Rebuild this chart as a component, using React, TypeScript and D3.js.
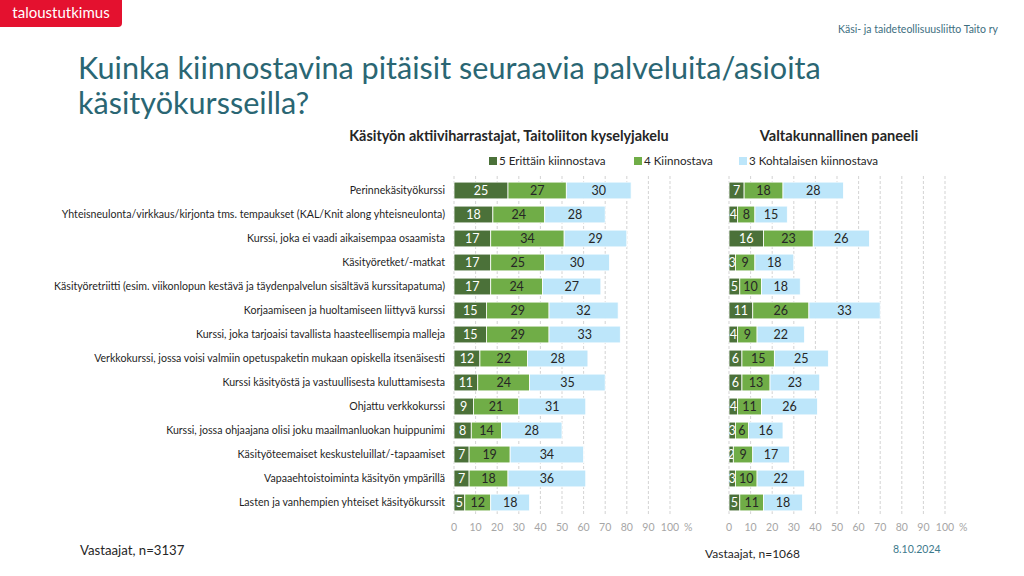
import React from "react";
import * as d3 from "d3";

const categories = [
  "Perinnekäsityökurssi",
  "Yhteisneulonta/virkkaus/kirjonta tms. tempaukset (KAL/Knit along yhteisneulonta)",
  "Kurssi, joka ei vaadi aikaisempaa osaamista",
  "Käsityöretket/-matkat",
  "Käsityöretriitti (esim. viikonlopun kestävä ja täydenpalvelun sisältävä kurssitapatuma)",
  "Korjaamiseen ja huoltamiseen liittyvä kurssi",
  "Kurssi, joka tarjoaisi tavallista haasteellisempia malleja",
  "Verkkokurssi, jossa voisi valmiin opetuspaketin mukaan opiskella itsenäisesti",
  "Kurssi käsityöstä ja vastuullisesta kuluttamisesta",
  "Ohjattu verkkokurssi",
  "Kurssi, jossa ohjaajana olisi joku maailmanluokan huippunimi",
  "Käsityöteemaiset keskusteluillat/-tapaamiset",
  "Vapaaehtoistoiminta käsityön ympärillä",
  "Lasten ja vanhempien yhteiset käsityökurssit",
];

const seriesNames = ["5 Erittäin kiinnostava", "4 Kiinnostava", "3 Kohtalaisen kiinnostava"];

const leftS5 = [25, 18, 17, 17, 17, 15, 15, 12, 11, 9, 8, 7, 7, 5];
const leftS4 = [27, 24, 34, 25, 24, 29, 29, 22, 24, 21, 14, 19, 18, 12];
const leftS3 = [30, 28, 29, 30, 27, 32, 33, 28, 35, 31, 28, 34, 36, 18];

const rightS5 = [7, 4, 16, 3, 5, 11, 4, 6, 6, 4, 3, 2, 3, 5];
const rightS4 = [18, 8, 23, 9, 10, 26, 9, 15, 13, 11, 6, 9, 10, 11];
const rightS3 = [28, 15, 26, 18, 18, 33, 22, 25, 23, 26, 16, 17, 22, 18];

const ticks = [0, 10, 20, 30, 40, 50, 60, 70, 80, 90, 100];

const colors = ["#4B7139", "#70AD47", "#BDE6FA"];
const labelColors = ["#ffffff", "#262626", "#262626"];
const FONT = "Lato, 'Open Sans', sans-serif";

const y = d3.scaleBand<string>().domain(categories).range([178.5, 514.5]).paddingInner(0.3).paddingOuter(0.15);

function Panel({ x0, s5, s4, s3 }: { x0: number; s5: number[]; s4: number[]; s3: number[] }) {
  const x = d3.scaleLinear().domain([0, 100]).range([x0, x0 + 216]);
  const rows = categories.map((c, i) => ({ c, vals: [s5[i], s4[i], s3[i]] }));
  const stackData = categories.map((c, i) => ({ c, a: s5[i], b: s4[i], d: s3[i] }));
  const stack = d3.stack<any>().keys(["a", "b", "d"])(stackData);
  return (
    <g>
      {ticks.map((t) => (
        <line key={t} x1={x(t)} x2={x(t)} y1={176} y2={515} stroke="#C8C8C8" strokeWidth={0.8} strokeDasharray="3,2" />
      ))}
      {stack.map((layer, k) => (
        <g key={k}>
          {layer.map((seg, i) => {
            const yy = y(categories[i])!;
            const w = x(seg[1]) - x(seg[0]);
            return (
              <g key={i}>
                <rect x={x(seg[0])} y={yy} width={w} height={y.bandwidth()} fill={colors[k]} stroke="#ffffff" strokeWidth={0.8} />
                <text
                  x={(x(seg[0]) + x(seg[1])) / 2}
                  y={yy + y.bandwidth() / 2}
                  dy="0.36em"
                  textAnchor="middle"
                  fontSize={12.5}
                  fill={labelColors[k]}
                  fontFamily={FONT}
                >
                  {rows[i].vals[k]}
                </text>
              </g>
            );
          })}
        </g>
      ))}
      {ticks.map((t) => (
        <text key={"l" + t} x={x(t)} y={531} textAnchor="middle" fontSize={10.5} fill="#A6A6A6" fontFamily={FONT}>
          {t}
        </text>
      ))}
      <text x={x(100) + 14} y={531} textAnchor="start" fontSize={10.5} fill="#A6A6A6" fontFamily={FONT}>
        %
      </text>
    </g>
  );
}

export default function App() {
  return (
    <svg width={1024} height={576} style={{ position: "absolute", left: 0, top: 0, background: "#fff" }}>
      <rect x={0} y={0} width={1024} height={576} fill="#ffffff" />
      <rect x={-6} y={-6} width={128} height={33} rx={4} fill="#E4112F" />
      <text x={61} y={18} textAnchor="middle" fontSize={15} fill="#ffffff" fontFamily={FONT}>
        taloustutkimus
      </text>
      <text x={998} y={33} textAnchor="end" fontSize={10.5} fill="#3D6E80" fontFamily={FONT}>
        Käsi- ja taideteollisuusliitto Taito ry
      </text>
      <text x={78} y={79} fontSize={30.6} fill="#2A6673" fontFamily={FONT}>
        Kuinka kiinnostavina pitäisit seuraavia palveluita/asioita
      </text>
      <text x={78} y={114} fontSize={30.6} fill="#2A6673" fontFamily={FONT}>
        käsityökursseilla?
      </text>
      <text x={509} y={141} textAnchor="middle" fontSize={14.4} fontWeight={700} fill="#262626" fontFamily={FONT}>
        Käsityön aktiiviharrastajat, Taitoliiton kyselyjakelu
      </text>
      <text x={839} y={141} textAnchor="middle" fontSize={14.6} fontWeight={700} fill="#262626" fontFamily={FONT}>
        Valtakunnallinen paneeli
      </text>
      {seriesNames.map((s, k) => {
        const lx = [489, 634, 739][k];
        return (
          <g key={s}>
            <rect x={lx} y={157} width={8} height={8} fill={colors[k]} />
            <text x={lx + 10} y={165} fontSize={11.6} fill="#262626" fontFamily={FONT}>
              {s}
            </text>
          </g>
        );
      })}
      {categories.map((c) => (
        <text
          key={c}
          x={445}
          y={y(c)! + y.bandwidth() / 2}
          dy="0.35em"
          textAnchor="end"
          fontSize={10.6}
          fill="#1f1f1f"
          fontFamily={FONT}
        >
          {c}
        </text>
      ))}
      <Panel x0={454} s5={leftS5} s4={leftS4} s3={leftS3} />
      <Panel x0={729} s5={rightS5} s4={rightS4} s3={rightS3} />
      <text x={80} y={555} fontSize={13.2} fill="#262626" fontFamily={FONT}>
        Vastaajat, n=3137
      </text>
      <text x={705} y={558} fontSize={12} fill="#262626" fontFamily={FONT}>
        Vastaajat,  n=1068
      </text>
      <text x={893} y={553} fontSize={10.5} fill="#3D7A8C" fontFamily={FONT}>
        8.10.2024
      </text>
    </svg>
  );
}
